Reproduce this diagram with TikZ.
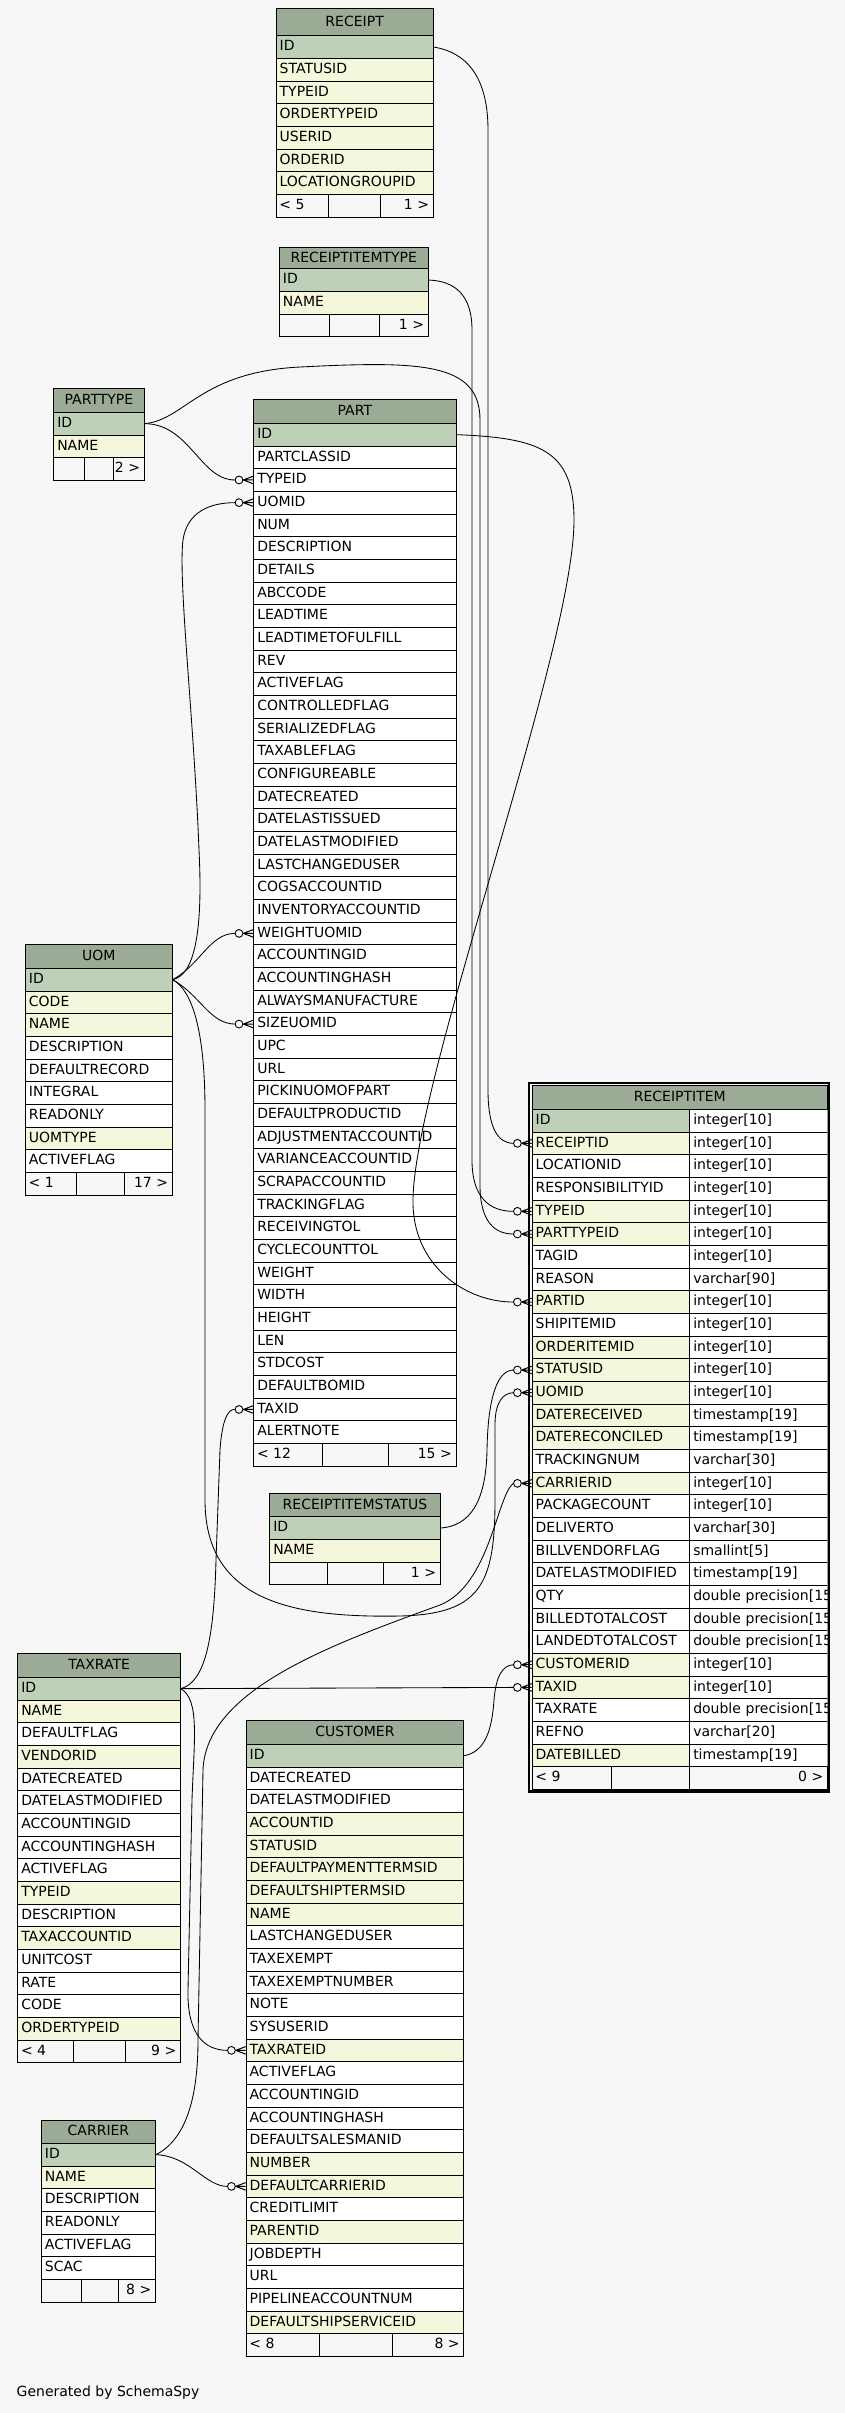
\documentclass[tikz,border=0pt]{standalone}
\usepackage{fontspec}
\setmainfont{DejaVu Sans}
\definecolor{bgc}{HTML}{F7F7F7}
\definecolor{colh}{HTML}{9BAB96}
\definecolor{colp}{HTML}{BED1B8}
\definecolor{coli}{HTML}{F4F7DB}
\definecolor{coln}{HTML}{FFFFFF}
\definecolor{colf}{HTML}{F7F7F7}
\newcommand{\rh}{22.67}
\newcommand{\tabfont}{\fontsize{14}{16}\selectfont}
\tikzset{
  cellbox/.style={draw=black, line width=0.9pt, inner xsep=3.5pt, inner ysep=0pt,
    minimum height=22.67pt, text height=10.2pt, text depth=2.6pt, font=\tabfont,
    align=left, anchor=west},
  hdrbox/.style={draw=black, line width=0.9pt, fill=colh, inner sep=0pt, font=\tabfont,
    text height=10.2pt, text depth=2.6pt, anchor=north west},
  footbox/.style={draw=black, line width=0.9pt, fill=colf, inner sep=0pt,
    minimum height=22.67pt, anchor=west},
  foottext/.style={inner xsep=2pt, inner ysep=0pt, text height=10.2pt, text depth=2.6pt, font=\tabfont},
  link/.style={draw=black, line width=0.85pt},
  crowodot/.pic={
    \draw[line width=0.9pt, fill=bgc] (-14.3,0) circle[radius=3.9pt];
    \draw[line width=1pt] (-10,0) -- (0,3.8) (-10,0) -- (0,0) (-10,0) -- (0,-3.8);
  }
}
% #1 name, #2 left x, #3 top y, #4 header bottom y, #5 right x, #6 title, #7 rows
\newcommand{\dbtab}[7]{%
  \pgfmathsetmacro{\tw}{#5-#2}%
  \pgfmathsetmacro{\tww}{#5-#2-7}%
  \pgfmathsetmacro{\hh}{#4-#3}%
  \xdef\lasthb{#4}\xdef\lastxl{#2}\xdef\lastxr{#5}%
  \node[hdrbox, minimum width=\tw pt, minimum height=\hh pt] (#1-head) at ({(#2+#5)/2-\tw/2},#3) {#6};
  \foreach \lab/\kind [count=\i from 0] in {#7} {
    \pgfmathsetmacro{\yc}{#4+(\i+0.5)*\rh}
    \node[cellbox, fill=col\kind, text width=\tww pt] (#1-\lab) at (#2,\yc) {\mbox{\lab}};
    \xdef\nrows{\i}
  }
}
% #1 name, #2 split1, #3 split2, #4 left text, #5 right text
\newcommand{\dbfoot}[5]{%
  \pgfmathsetmacro{\fyc}{\lasthb+(\nrows+1.5)*\rh}%
  \pgfmathsetmacro{\wa}{#2-\lastxl}%
  \pgfmathsetmacro{\wb}{#3-#2}%
  \pgfmathsetmacro{\wc}{\lastxr-#3}%
  \node[footbox, minimum width=\wa pt] (#1-fa) at (\lastxl,\fyc) {};
  \node[footbox, minimum width=\wb pt] (#1-fb) at (#2,\fyc) {};
  \node[footbox, minimum width=\wc pt] (#1-fc) at (#3,\fyc) {};
  \node[foottext, anchor=west] (#1-fl) at (\lastxl+1.5,\fyc) {#4};
  \node[foottext, anchor=east] (#1-fr) at (\lastxr-1.5,\fyc) {#5};
}
\begin{document}
\begin{tikzpicture}[x=1pt, y=-1pt]
\useasboundingbox (0,0) rectangle (845,2413);
\fill[bgc] (0,0) rectangle (845,2413);

% ---------- tables ----------
\dbtab{receipt}{275.7}{8.3}{35.7}{432.7}{RECEIPT}{ID/p,STATUSID/i,TYPEID/i,ORDERTYPEID/i,USERID/i,ORDERID/i,LOCATIONGROUPID/i}
\dbfoot{receipt}{328.3}{380}{< 5}{1 >}

\dbtab{ritype}{279}{247}{268.7}{427.7}{RECEIPTITEMTYPE}{ID/p,NAME/i}
\dbfoot{ritype}{329.3}{379}{}{1 >}

\dbtab{parttype}{53.3}{388.3}{412.3}{143.7}{PARTTYPE}{ID/p,NAME/i}
\dbfoot{parttype}{84.3}{113.3}{}{2 >}

\dbtab{part}{253.3}{399.3}{423.3}{455.5}{PART}{ID/p,PARTCLASSID/n,TYPEID/n,UOMID/n,NUM/n,DESCRIPTION/n,DETAILS/n,ABCCODE/n,LEADTIME/n,LEADTIMETOFULFILL/n,REV/n,ACTIVEFLAG/n,CONTROLLEDFLAG/n,SERIALIZEDFLAG/n,TAXABLEFLAG/n,CONFIGUREABLE/n,DATECREATED/n,DATELASTISSUED/n,DATELASTMODIFIED/n,LASTCHANGEDUSER/n,COGSACCOUNTID/n,INVENTORYACCOUNTID/n,WEIGHTUOMID/n,ACCOUNTINGID/n,ACCOUNTINGHASH/n,ALWAYSMANUFACTURE/n,SIZEUOMID/n,UPC/n,URL/n,PICKINUOMOFPART/n,DEFAULTPRODUCTID/n,ADJUSTMENTACCOUNTID/n,VARIANCEACCOUNTID/n,SCRAPACCOUNTID/n,TRACKINGFLAG/n,RECEIVINGTOL/n,CYCLECOUNTTOL/n,WEIGHT/n,WIDTH/n,HEIGHT/n,LEN/n,STDCOST/n,DEFAULTBOMID/n,TAXID/n,ALERTNOTE/n}
\dbfoot{part}{321.7}{388.3}{< 12}{15 >}

\dbtab{ristatus}{269.3}{1493.3}{1516.7}{439.7}{RECEIPTITEMSTATUS}{ID/p,NAME/i}
\dbfoot{ristatus}{327.3}{383.3}{}{1 >}

\dbtab{uom}{25}{944}{968.3}{171.7}{UOM}{ID/p,CODE/i,NAME/i,DESCRIPTION/n,DEFAULTRECORD/n,INTEGRAL/n,READONLY/n,UOMTYPE/i,ACTIVEFLAG/n}
\dbfoot{uom}{75.7}{124}{< 1}{17 >}

\dbtab{taxrate}{17.3}{1653.3}{1677.3}{180}{TAXRATE}{ID/p,NAME/i,DEFAULTFLAG/n,VENDORID/i,DATECREATED/n,DATELASTMODIFIED/n,ACCOUNTINGID/n,ACCOUNTINGHASH/n,ACTIVEFLAG/n,TYPEID/i,DESCRIPTION/n,TAXACCOUNTID/i,UNITCOST/n,RATE/n,CODE/n,ORDERTYPEID/i}
\dbfoot{taxrate}{72.7}{125}{< 4}{9 >}

\dbtab{customer}{245.7}{1720.3}{1744.3}{463.3}{CUSTOMER}{ID/p,DATECREATED/n,DATELASTMODIFIED/n,ACCOUNTID/i,STATUSID/i,DEFAULTPAYMENTTERMSID/i,DEFAULTSHIPTERMSID/i,NAME/i,LASTCHANGEDUSER/n,TAXEXEMPT/n,TAXEXEMPTNUMBER/n,NOTE/n,SYSUSERID/n,TAXRATEID/i,ACTIVEFLAG/n,ACCOUNTINGID/n,ACCOUNTINGHASH/n,DEFAULTSALESMANID/n,NUMBER/i,DEFAULTCARRIERID/i,CREDITLIMIT/n,PARENTID/i,JOBDEPTH/n,URL/n,PIPELINEACCOUNTNUM/n,DEFAULTSHIPSERVICEID/i}
\dbfoot{customer}{319.3}{391.7}{< 8}{8 >}

\dbtab{carrier}{41}{2120}{2143.3}{155}{CARRIER}{ID/p,NAME/i,DESCRIPTION/n,READONLY/n,ACTIVEFLAG/n,SCAC/n}
\dbfoot{carrier}{80.7}{117.7}{}{8 >}

% ---------- RECEIPTITEM (focus table) ----------
\node[hdrbox, minimum width=295.3pt, minimum height=24.3pt] (ri-head) at (531.7,1085) {RECEIPTITEM};
\foreach \lab/\kind [count=\i from 0] in {ID/p,RECEIPTID/i,LOCATIONID/n,RESPONSIBILITYID/n,TYPEID/i,PARTTYPEID/i,TAGID/n,REASON/n,PARTID/i,SHIPITEMID/n,ORDERITEMID/i,STATUSID/i,UOMID/i,DATERECEIVED/i,DATERECONCILED/i,TRACKINGNUM/n,CARRIERID/i,PACKAGECOUNT/n,DELIVERTO/n,BILLVENDORFLAG/n,DATELASTMODIFIED/n,QTY/n,BILLEDTOTALCOST/n,LANDEDTOTALCOST/n,CUSTOMERID/i,TAXID/i,TAXRATE/n,REFNO/n,DATEBILLED/i} {
  \pgfmathsetmacro{\yc}{1109.3+(\i+0.5)*\rh}
  \node[cellbox, fill=col\kind, text width=150.6pt] (ri-\lab) at (531.7,\yc) {\mbox{\lab}};
  \xdef\nrows{\i}
}
\begin{scope}
\clip (680,1080) rectangle (827.4,1800);
\foreach \lab/\typ [count=\i from 0] in {ID/integer[10],RECEIPTID/integer[10],LOCATIONID/integer[10],RESPONSIBILITYID/integer[10],TYPEID/integer[10],PARTTYPEID/integer[10],TAGID/integer[10],REASON/varchar[90],PARTID/integer[10],SHIPITEMID/integer[10],ORDERITEMID/integer[10],STATUSID/integer[10],UOMID/integer[10],DATERECEIVED/timestamp[19],DATERECONCILED/timestamp[19],TRACKINGNUM/varchar[30],CARRIERID/integer[10],PACKAGECOUNT/integer[10],DELIVERTO/varchar[30],BILLVENDORFLAG/smallint[5],DATELASTMODIFIED/timestamp[19],QTY/double precision[15],BILLEDTOTALCOST/double precision[15],LANDEDTOTALCOST/double precision[15],CUSTOMERID/integer[10],TAXID/integer[10],TAXRATE/double precision[15],REFNO/varchar[20],DATEBILLED/timestamp[19]} {
  \pgfmathsetmacro{\yc}{1109.3+(\i+0.5)*\rh}
  \node[cellbox, fill=coln, text width=130.7pt] (ri-\lab-t) at (689.3,\yc) {\mbox{\typ}};
}
\end{scope}
\xdef\lasthb{1109.3}\xdef\lastxl{531.7}\xdef\lastxr{827}
\dbfoot{ri}{611}{689.3}{< 9}{0 >}
\draw[line width=2.2pt] (529.3,1083.3) rectangle (829.2,1791.5);

% ---------- connectors ----------
\draw[link] (receipt-ID.east) .. controls (465,52) and (488,75) .. (488,130) -- (488,1090) .. controls (488,1128) and (498,1143.3) .. ([xshift=-18.3pt]ri-RECEIPTID.west);
\draw[link] (ritype-ID.east) .. controls (455,281) and (472,295) .. (472,330) -- (472,1160) .. controls (472,1198) and (490,1211.4) .. ([xshift=-18.3pt]ri-TYPEID.west);
\draw[link] (parttype-ID.east) .. controls (185,420) and (200,372) .. (300,367) .. controls (420,361) and (480,362) .. (480,420) -- (480,1185) .. controls (480,1222) and (495,1234.1) .. ([xshift=-18.3pt]ri-PARTTYPEID.west);
\draw[link] (parttype-ID.east) .. controls (190,424) and (200,480) .. ([xshift=-18.3pt]part-TYPEID.west);
\draw[link] (part-ID.east) .. controls (540,438) and (574,450) .. (574,520) .. controls (574,650) and (414,1080) .. (413,1200) .. controls (412,1265) and (465,1302.2) .. ([xshift=-18.3pt]ri-PARTID.west);
\draw[link] (uom-ID.east) .. controls (195,975) and (203,930) .. (199,850) .. controls (194,720) and (178,580) .. (183,540) .. controls (187,512) and (210,502.6) .. ([xshift=-18.3pt]part-UOMID.west);
\draw[link] (uom-ID.east) .. controls (200,965) and (210,933.3) .. ([xshift=-18.3pt]part-WEIGHTUOMID.west);
\draw[link] (uom-ID.east) .. controls (200,995) and (210,1024) .. ([xshift=-18.3pt]part-SIZEUOMID.west);
\draw[link] (uom-ID.east) .. controls (192,990) and (205,1030) .. (205,1110) -- (205,1500) .. controls (205,1600) and (290,1618) .. (400,1616) .. controls (480,1614) and (495,1585) .. (495,1500) -- (495,1425) .. controls (495,1402) and (503,1393) .. ([xshift=-18.3pt]ri-UOMID.west);
\draw[link] (ristatus-ID.east) .. controls (468,1526) and (486,1505) .. (487,1450) .. controls (488,1395) and (498,1370.3) .. ([xshift=-18.3pt]ri-STATUSID.west);
\draw[link] (taxrate-ID.east) .. controls (205,1682) and (214,1640) .. (216,1560) -- (220,1450) .. controls (222,1420) and (228,1408.5) .. ([xshift=-18.3pt]part-TAXID.west);
\draw[link] (taxrate-ID.east) -- ([xshift=-18.3pt]ri-TAXID.west);
\draw[link] (taxrate-ID.east) .. controls (200,1700) and (194,1740) .. (192,1800) -- (188,1990) .. controls (187,2035) and (205,2050.3) .. ([xshift=-18.3pt]customer-TAXRATEID.west);
\draw[link] (carrier-ID.east) .. controls (185,2140) and (198,2100) .. (198,2040) -- (203,1770) .. controls (206,1690) and (330,1645) .. (440,1605) .. controls (490,1585) and (497,1495) .. ([xshift=-18.3pt]ri-CARRIERID.west);
\draw[link] (carrier-ID.east) .. controls (190,2156) and (205,2186.4) .. ([xshift=-18.3pt]customer-DEFAULTCARRIERID.west);
\draw[link] (customer-ID.east) .. controls (485,1752) and (492,1730) .. (494,1700) .. controls (496,1675) and (503,1665.3) .. ([xshift=-18.3pt]ri-CUSTOMERID.west);

% ---------- crow's foot + circle ends ----------
\foreach \t in {ri-RECEIPTID,ri-TYPEID,ri-PARTTYPEID,ri-PARTID,ri-STATUSID,ri-UOMID,ri-CARRIERID,ri-CUSTOMERID,ri-TAXID,part-TYPEID,part-UOMID,part-WEIGHTUOMID,part-SIZEUOMID,part-TAXID,customer-TAXRATEID,customer-DEFAULTCARRIERID}
  \pic at (\t.west) {crowodot};

\node[anchor=base west, inner sep=0pt, font=\tabfont] (gen) at (16.5,2396) {Generated by SchemaSpy};
\end{tikzpicture}
\end{document}
